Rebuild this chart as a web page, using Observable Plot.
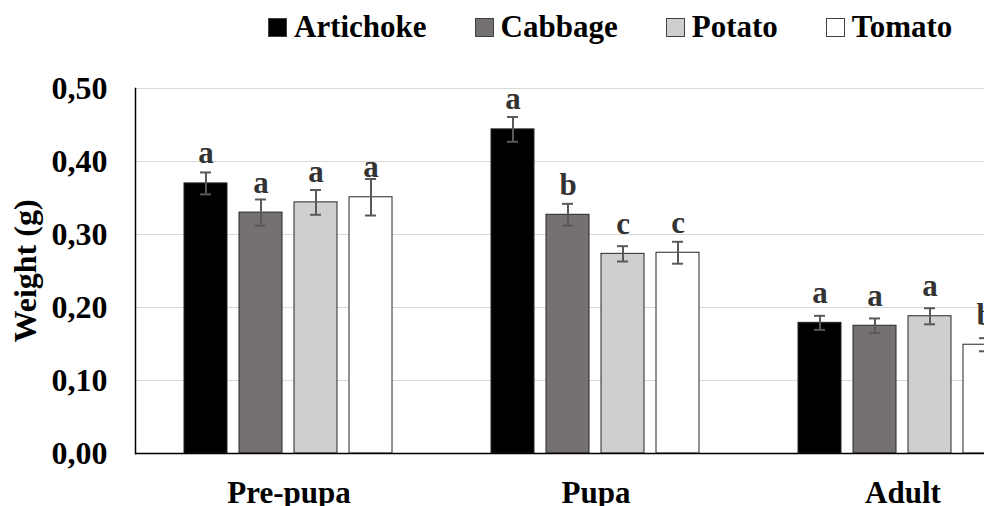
<!DOCTYPE html>
<html><head><meta charset="utf-8">
<script src="https://cdn.jsdelivr.net/npm/d3@7"></script>
<script src="https://cdn.jsdelivr.net/npm/@observablehq/plot@0.6"></script>
<style>
html,body{margin:0;padding:0;background:#fff;overflow:hidden;width:984px;height:506px}
#wrap{position:relative;width:984px;height:506px;overflow:hidden}
#legend{position:absolute;left:268px;top:11px;display:flex;font:bold 31px "Liberation Serif","Times New Roman",serif;line-height:31px;white-space:nowrap;color:#000}
.item{margin-right:48px}
.sw{display:inline-block;width:17px;height:17px;border:1px solid #404040;margin-right:7px;vertical-align:baseline}
#chart{position:absolute;left:0;top:0}
</style></head><body>
<div id="wrap"><div id="chart"></div><div id="legend"></div></div>
<script>
const stages = ["Pre-pupa", "Pupa", "Adult"];
const hosts = ["Artichoke", "Cabbage", "Potato", "Tomato"];
const hostColors = ["#000000", "#767171", "#d0cece", "#ffffff"];
const prePupa = [0.370, 0.330, 0.344, 0.351];
const pupa = [0.444, 0.327, 0.2735, 0.275];
const adult = [0.179, 0.175, 0.188, 0.149];
const prePupaErr = [0.015, 0.018, 0.017, 0.025];
const pupaErr = [0.017, 0.015, 0.0105, 0.015];
const adultErr = [0.0096, 0.010, 0.011, 0.009];
const prePupaLetters = ["a", "a", "a", "a"];
const pupaLetters = ["a", "b", "c", "c"];
const adultLetters = ["a", "a", "a", "b"];
const yTicks = [0, 0.1, 0.2, 0.3, 0.4, 0.5];
const yLabel = "Weight (g)";

const values = [prePupa, pupa, adult];
const errs = [prePupaErr, pupaErr, adultErr];
const letters = [prePupaLetters, pupaLetters, adultLetters];
const rows = [];
stages.forEach((s, i) => hosts.forEach((h, j) => rows.push({
  stage: s, host: h, value: values[i][j], err: errs[i][j], letter: letters[i][j]
})));

const fmt = d => d3.format(".2f")(d).replace(".", ",");
const font = '"Liberation Serif","Times New Roman",serif';

const chart = Plot.plot({
  width: 1056,
  height: 506,
  marginLeft: 135,
  marginRight: 0,
  marginTop: 88,
  marginBottom: 53,
  style: {fontFamily: font, fontWeight: "bold", fontSize: "31px", maxWidth: "none", background: "#fff", color: "#000"},
  fx: {domain: stages, padding: 0, label: null, axis: null},
  x: {domain: hosts, paddingInner: 0.21, paddingOuter: 0.85, axis: null},
  y: {domain: [0, 0.5], axis: null},
  color: {domain: hosts, range: hostColors},
  marks: [
    Plot.gridY(yTicks, {stroke: "#d9d9d9", strokeOpacity: 1, strokeWidth: 1}),
    Plot.barY(rows, {fx: "stage", x: "host", y: "value", fill: "host", stroke: "#262626", strokeWidth: 1}),
    Plot.ruleX(rows, {fx: "stage", x: "host", y1: d => d.value - d.err, y2: d => d.value + d.err, stroke: "#595959", strokeWidth: 2}),
    Plot.tickY(rows, {fx: "stage", x: "host", y: d => d.value - d.err, stroke: "#595959", strokeWidth: 2, insetLeft: 16, insetRight: 16}),
    Plot.tickY(rows, {fx: "stage", x: "host", y: d => d.value + d.err, stroke: "#595959", strokeWidth: 2, insetLeft: 16, insetRight: 16}),
    Plot.text(rows, {fx: "stage", x: "host", y: "value", text: "letter", dy: -20, lineAnchor: "bottom", fill: "#333", fontSize: 31}),
    Plot.ruleY([0], {stroke: "#000", strokeWidth: 1.5}),
    Plot.frame({anchor: "left", facetAnchor: "left", stroke: "#000", strokeWidth: 1.5}),
    Plot.axisY({ticks: yTicks, tickFormat: fmt, tickSize: 0, tickPadding: 28, fontSize: 32, label: yLabel, labelAnchor: "center", labelOffset: 122, labelArrow: "none"}),
    Plot.axisFx({anchor: "bottom", tickSize: 0, tickPadding: 27, label: null, fontSize: 31})
  ]
});
document.getElementById("chart").appendChild(chart);

const legend = document.getElementById("legend");
hosts.forEach((h, i) => {
  const item = document.createElement("span");
  item.className = "item";
  const sw = document.createElement("span");
  sw.className = "sw";
  sw.style.background = hostColors[i];
  item.appendChild(sw);
  item.appendChild(document.createTextNode(h));
  legend.appendChild(item);
});
</script>
</body></html>
